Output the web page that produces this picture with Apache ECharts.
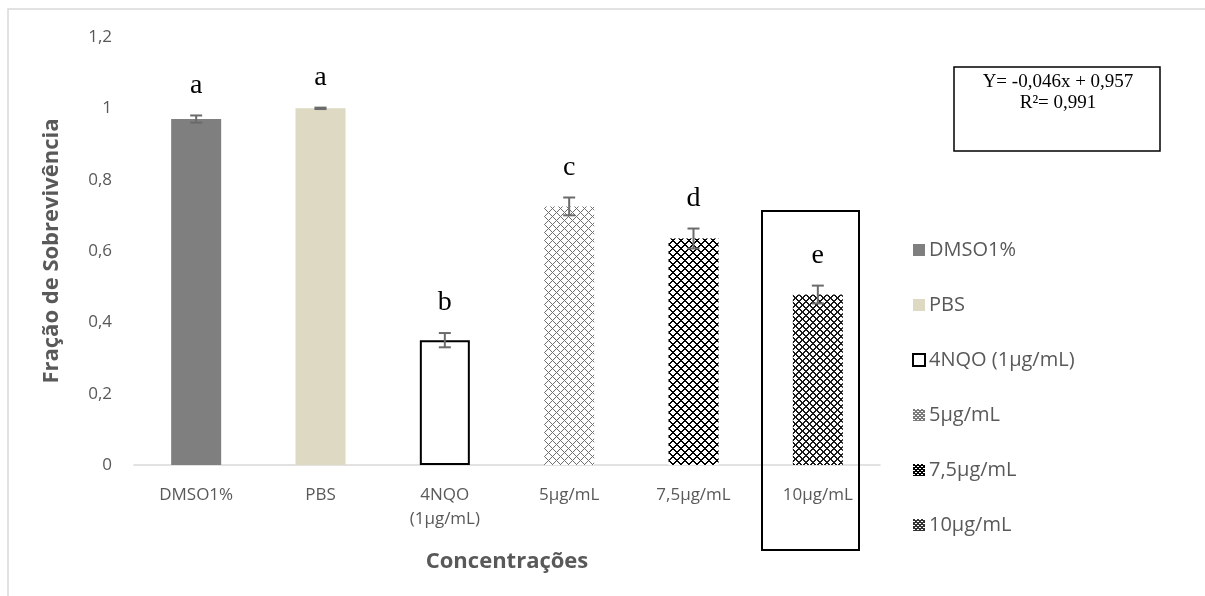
<!DOCTYPE html>
<html>
<head>
<meta charset="utf-8">
<script src="https://cdn.jsdelivr.net/npm/echarts@6/dist/echarts.min.js"></script>
<style>
  html, body { margin: 0; padding: 0; background: #fff; }
  #chart { width: 1205px; height: 596px; }
</style>
</head>
<body>
<div id="chart"></div>
<script>
// Survival fraction by treatment
const categories = ['DMSO1%', 'PBS', '4NQO\n(1µg/mL)', '5µg/mL', '7,5µg/mL', '10µg/mL'];
const seriesNames = ['DMSO1%', 'PBS', '4NQO (1µg/mL)', '5µg/mL', '7,5µg/mL', '10µg/mL'];
const survival = [0.97, 1.0, 0.35, 0.725, 0.635, 0.478];
const errors = [0.01, 0.002, 0.02, 0.025, 0.028, 0.025];
const letters = ['a', 'a', 'b', 'c', 'd', 'e'];
const yTicks = { min: 0, max: 1.2, interval: 0.2 };
const equationLines = ['Y= -0,046x + 0,957', 'R²= 0,991'];

// Small tiled lattice fills for the patterned bars
function makePattern(color, period, sparse) {
  const c = document.createElement('canvas');
  c.width = c.height = period;
  const ctx = c.getContext('2d');
  ctx.fillStyle = '#ffffff';
  ctx.fillRect(0, 0, period, period);
  ctx.fillStyle = color;
  for (let x = 0; x < period; x++) {
    for (let y = 0; y < period; y++) {
      const d1 = (x + y) % period;
      const d2 = ((x - y) % period + period) % period;
      const onLine = d1 < 2 || d2 < 2;
      if (onLine && (!sparse || (x + y) % 2 === 0 || d1 === 0 || d2 === 0)) {
        ctx.fillRect(x, y, 1, 1);
      }
    }
  }
  return { image: c, repeat: 'repeat' };
}

const fills = [
  { color: '#7f7f7f' },
  { color: '#ddd9c3' },
  { color: '#ffffff', borderColor: '#000000', borderWidth: 2 },
  { color: makePattern('#6e6e6e', 8, true) },
  { color: makePattern('#000000', 8, false) },
  { color: makePattern('#1a1a1a', 7, false) }
];

// Finer tiles for the small legend swatches
const legendFills = [
  null, null, null,
  { color: makePattern('#7a7a7a', 4, false) },
  { color: makePattern('#000000', 4, false) },
  { color: makePattern('#333333', 4, false) }
];

const barSeries = seriesNames.map((name, i) => ({
  name: name,
  type: 'bar',
  stack: 'total',
  barWidth: 50,
  itemStyle: fills[i],
  data: categories.map((c, j) => (j === i ? survival[i] : '-'))
}));

const errorSeries = {
  type: 'custom',
  name: 'erro',
  z: 5,
  silent: true,
  data: survival.map((v, i) => [i, v, errors[i]]),
  encode: { x: 0, y: 1 },
  renderItem: function (params, api) {
    const idx = api.value(0);
    const v = api.value(1);
    const e = api.value(2);
    const top = api.coord([idx, v + e]);
    const bot = api.coord([idx, v - e]);
    const cap = 6;
    const st = { stroke: '#6b6b6b', lineWidth: 2 };
    return {
      type: 'group',
      children: [
        { type: 'line', shape: { x1: top[0], y1: top[1], x2: bot[0], y2: bot[1] }, style: st },
        { type: 'line', shape: { x1: top[0] - cap, y1: top[1], x2: top[0] + cap, y2: top[1] }, style: st },
        { type: 'line', shape: { x1: bot[0] - cap, y1: bot[1], x2: bot[0] + cap, y2: bot[1] }, style: st },
        {
          type: 'text',
          style: {
            text: letters[params.dataIndex],
            x: top[0], y: top[1] - 30,
            align: 'center', verticalAlign: 'middle',
            font: '28px "Liberation Serif"', fill: '#000000'
          }
        }
      ]
    };
  }
};

const chart = echarts.init(document.getElementById('chart'), null, { renderer: 'canvas' });

chart.setOption({
  backgroundColor: '#ffffff',
  animation: false,
  grid: { left: 134, right: 325, top: 37, bottom: 131 },
  legend: {
    orient: 'vertical',
    left: 907,
    top: 235,
    itemGap: 35,
    itemWidth: 12,
    itemHeight: 12,
    icon: 'rect',
    textStyle: { color: '#595959', fontSize: 20, fontFamily: 'Open Sans', padding: [0, 0, 0, -1] },
    data: seriesNames.map((n, i) => (legendFills[i] ? { name: n, itemStyle: legendFills[i] } : n))
  },
  xAxis: {
    type: 'category',
    data: categories,
    name: 'Concentrações',
    nameLocation: 'middle',
    nameGap: 86,
    nameTextStyle: { color: '#595959', fontSize: 22, fontWeight: 'bold', fontFamily: 'Open Sans' },
    axisLine: { lineStyle: { color: '#d9d9d9', width: 1.5 } },
    axisTick: { show: false },
    axisLabel: { color: '#595959', fontSize: 17, fontFamily: 'Open Sans', margin: 18, lineHeight: 24, interval: 0 }
  },
  yAxis: {
    type: 'value',
    min: yTicks.min,
    max: yTicks.max,
    interval: yTicks.interval,
    name: 'Fração de Sobrevivência',
    nameLocation: 'middle',
    nameGap: 71,
    nameTextStyle: { color: '#595959', fontSize: 22, fontWeight: 'bold', fontFamily: 'Open Sans' },
    axisLine: { show: false },
    axisTick: { show: false },
    splitLine: { show: false },
    axisLabel: {
      color: '#595959', fontSize: 17, fontFamily: 'Open Sans', margin: 22,
      formatter: v => String(Math.round(v * 10) / 10).replace('.', ',')
    }
  },
  graphic: [
    {
      type: 'rect',
      shape: { x: 8, y: 9, width: 1205, height: 600 },
      style: { fill: 'none', stroke: '#d9d9d9', lineWidth: 1.5 },
      silent: true
    },
    {
      type: 'rect',
      shape: { x: 762, y: 211, width: 97, height: 339 },
      style: { fill: 'none', stroke: '#000000', lineWidth: 2 },
      z: 10,
      silent: true
    },
    {
      type: 'rect',
      shape: { x: 954, y: 67, width: 206, height: 84 },
      style: { fill: '#ffffff', stroke: '#000000', lineWidth: 1.5 },
      silent: true
    },
    {
      type: 'text',
      style: {
        text: equationLines.join('\n'),
        x: 1058, y: 72,
        align: 'center', verticalAlign: 'top',
        font: '19px "Liberation Serif"', lineHeight: 21, fill: '#000000'
      },
      silent: true
    }
  ],
  series: barSeries.concat([errorSeries])
});
</script>
</body>
</html>
